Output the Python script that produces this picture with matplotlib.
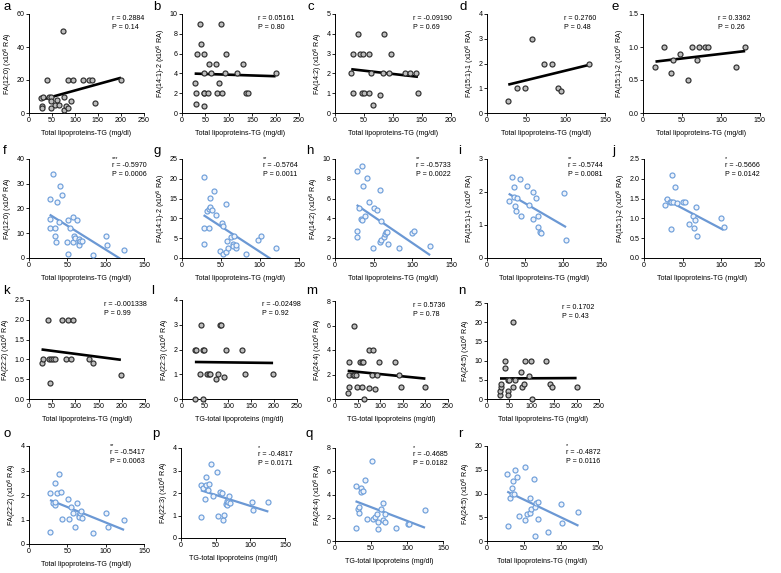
import numpy as np
import matplotlib
matplotlib.use("Agg")
import matplotlib.pyplot as plt

plt.rcParams['font.family'] = ['Liberation Sans', 'DejaVu Sans']

W, H = 781, 573
fig = plt.figure(figsize=(W / 100, H / 100), dpi=100)

# ---------------- data ----------------
a_x = [27, 28, 28, 31, 43, 47, 47, 47, 57, 60, 65, 76, 76, 80, 85, 92, 143, 40, 84, 96, 118, 130, 138, 200, 74]
a_y = [9, 4, 3, 10, 10, 10, 7, 3, 5, 8, 5, 10, 2, 4, 3, 7, 6, 20, 20, 20, 20, 20, 20, 20, 50]

b_x = [27, 30, 30, 31, 39, 41, 46, 46, 48, 47, 48, 55, 57, 61, 73, 74, 79, 83, 85, 92, 95, 118, 130, 137, 141, 200]
b_y = [3, 2, 0.9, 6, 9, 7, 4, 2, 2, 0.7, 6, 2, 5, 4, 5, 2, 3, 9, 2, 4, 6, 4, 5, 2, 2, 4]

c_x = [28, 31, 31, 40, 43, 49, 47, 50, 58, 58, 62, 66, 77, 82, 85, 93, 97, 120, 129, 140, 143]
c_y = [2, 3, 1, 4, 3, 3, 1, 1, 3, 1, 2, 0.4, 0.9, 2, 4, 2, 3, 2, 2, 2, 1]

d_x = [27, 38, 48, 57, 73, 83, 90, 94, 130]
d_y = [0.5, 1, 1, 3, 2, 2, 1, 0.9, 2]

e_x = [16, 27, 36, 38, 47, 58, 63, 69, 72, 79, 83, 119, 131]
e_y = [0.7, 1.0, 0.6, 0.8, 0.9, 0.5, 1.0, 0.8, 1.0, 1.0, 1.0, 0.7, 1.0]

f_x = [31, 27, 28, 27, 34, 34, 35, 36, 38.6, 41, 43, 49, 51, 51, 53, 57, 58, 59, 59.4, 63, 64.6, 64.6, 65.5, 66.8, 68.5, 83, 100, 102, 123.5]
f_y = [34, 24, 15.6, 12.2, 12.2, 8.8, 6.4, 22.6, 14.6, 29, 25.6, 6.4, 15.3, 1.8, 12, 6.4, 16.5, 9, 7.9, 15.5, 6.2, 5.3, 7.5, 6.8, 6.8, 1.1, 8.8, 5.4, 3.4]

g_x = [27.7, 28, 28.5, 31.5, 34, 35, 35.4, 36, 39, 41, 43.5, 49, 50.7, 52, 53, 56, 57, 58, 58.8, 63, 64.8, 65.6, 67.3, 68.6, 68.6, 81.8, 98, 101, 121]
g_y = [20.4, 7.7, 3.6, 11.9, 7.5, 12.4, 12.9, 15.1, 12.1, 16.8, 10.9, 1.7, 8.8, 1.1, 8.1, 13.6, 1.5, 4.3, 2.4, 5.3, 3.6, 3.0, 5.6, 2.5, 3.4, 1.1, 4.5, 5.6, 2.5]

h_x = [28, 35, 36.6, 41.8, 29, 29, 31.5, 34, 34.5, 39, 44, 49.5, 51, 54, 58, 59, 58, 60, 63, 64.7, 66, 67, 68, 83, 99.6, 102, 123]
h_y = [8.8, 9.3, 7.3, 8.1, 2.7, 2.1, 5.1, 3.9, 3.8, 4.2, 5.7, 1.05, 5.0, 4.85, 6.9, 3.7, 1.6, 1.8, 2.1, 2.4, 2.6, 2.6, 1.45, 1.0, 2.5, 2.7, 1.2]

i_x = [28.5, 33, 35.5, 35.5, 37, 37.7, 40, 43, 45, 52.6, 55, 60.5, 61, 65, 67.5, 66.7, 70, 70.6, 101.7, 104]
i_y = [1.72, 2.46, 2.15, 1.84, 1.58, 1.43, 1.82, 2.39, 1.28, 2.18, 1.6, 2.0, 1.19, 1.81, 1.26, 0.94, 0.79, 0.76, 1.96, 0.56]

j_x = [26.8, 29.8, 33, 35, 34.6, 36.7, 38, 40.6, 42.8, 50, 53, 58, 63, 64.4, 65.7, 67.4, 68.3, 99, 103]
j_y = [1.34, 1.49, 1.41, 1.42, 0.74, 2.1, 1.41, 1.8, 1.38, 1.42, 1.42, 0.85, 1.07, 0.75, 0.96, 1.29, 0.56, 1.0, 0.78]

k_x = [27, 30, 40, 44, 48, 46, 52, 56, 72, 83, 95, 80, 91, 129, 138, 198]
k_y = [0.9, 1, 2, 1, 1, 0.4, 1, 1, 2, 2, 2, 1, 1, 1, 0.9, 0.6]

l_x = [28, 28, 30, 41, 39, 45, 47, 45, 55, 58, 60, 74, 82, 85, 79, 91, 95, 130, 138, 198]
l_y = [0, 2, 2, 3, 1, 2, 2, 0, 1, 1, 1, 0.8, 3, 3, 1, 0.9, 2, 2, 1, 1]

m_x = [28, 31, 31, 31, 41, 39, 43, 46, 48, 56, 59, 62, 59, 65, 75, 85, 76, 81, 89, 93, 97, 133, 141, 145, 200]
m_y = [0.5, 3, 2, 1, 6, 2, 2, 2, 1, 3, 3, 3, 1, 0, 4, 4, 0.9, 2, 0.8, 2, 3, 3, 2, 1, 1]

n_x = [29, 30, 31, 31, 41, 40, 46, 49, 47, 47, 59, 58, 63, 75, 78, 82, 84, 98, 93, 101, 131, 140, 145, 200]
n_y = [1, 2, 3, 4, 10, 8, 5, 5, 2, 1, 20, 3, 5, 7, 3, 4, 10, 10, 6, 0, 10, 4, 3, 3]

o_x = [28, 27.4, 31, 33.5, 34, 34.4, 36, 38.7, 41.3, 43, 51.3, 51.7, 54.3, 57.8, 60, 63, 65, 65.6, 66.5, 68.3, 69, 83.5, 100, 102.6, 124]
o_y = [0.5, 2.07, 1.67, 1.6, 2.48, 1.71, 2.08, 2.86, 2.14, 1.02, 1.85, 1.02, 1.5, 1.25, 0.68, 1.69, 1.18, 1.12, 1.27, 1.35, 1.05, 0.46, 1.25, 0.68, 0.98]

p_x = [29, 28.7, 32, 35, 35.5, 36.4, 38.3, 40, 42.6, 45.5, 52, 53.7, 55.6, 59.4, 60.4, 61.3, 64.7, 66.6, 67, 67.6, 69.5, 70, 102, 104.5, 126]
p_y = [0.92, 2.34, 2.24, 1.75, 2.71, 2.37, 2.12, 2.41, 3.29, 1.85, 2.95, 0.98, 2.03, 1.99, 0.81, 1.04, 1.53, 1.66, 1.48, 1.6, 1.85, 1.54, 1.6, 1.26, 1.61]

q_x = [28.5, 29, 31.8, 33.6, 34, 36, 36.8, 39, 42, 44, 51.5, 53, 55, 58.4, 60, 59.4, 64.4, 66, 66.7, 69.5, 70, 84.7, 100.8, 102.6, 125]
q_y = [4.77, 1.13, 2.75, 2.89, 2.43, 4.57, 4.22, 4.28, 5.23, 1.91, 6.85, 1.91, 2.08, 2.31, 1.65, 1.04, 2.72, 3.27, 1.79, 2.28, 1.62, 1.1, 1.42, 1.47, 2.63]

r_x = [27.3, 28.2, 31.3, 33.6, 35, 34, 36.7, 38.5, 41, 43.9, 51, 51.5, 54, 57.8, 58.7, 59.6, 63, 65, 65.8, 65.4, 68.5, 69, 82.8, 99.9, 102, 123.6]
r_y = [14.1, 3.1, 9.1, 11.1, 12.7, 9.9, 9.9, 14.9, 13.5, 5.3, 15.5, 4.5, 5.6, 9.0, 5.8, 6.7, 13.1, 7.2, 7.9, 1.0, 8.2, 4.6, 2.0, 7.7, 3.7, 6.1]

letters = list("abcdefghijklmnopqr")
xs = [a_x, b_x, c_x, d_x, e_x, f_x, g_x, h_x, i_x, j_x, k_x, l_x, m_x, n_x, o_x, p_x, q_x, r_x]
ys = [a_y, b_y, c_y, d_y, e_y, f_y, g_y, h_y, i_y, j_y, k_y, l_y, m_y, n_y, o_y, p_y, q_y, r_y]

ylabels = ["FA(12:0) (x10$^6$ RA)", "FA(14:1)-2 (x10$^6$ RA)", "FA(14:2) (x10$^6$ RA)",
           "FA(15:1)-1 (x10$^6$ RA)", "FA(15:1)-2 (x10$^6$ RA)",
           "FA(12:0) (x10$^6$ RA)", "FA(14:1)-2 (x10$^6$ RA)", "FA(14:2) (x10$^6$ RA)",
           "FA(15:1)-1 (x10$^6$ RA)", "FA(15:1)-2 (x10$^6$ RA)",
           "FA(22:2) (x10$^6$ RA)", "FA(22:3) (x10$^6$ RA)", "FA(24:4) (x10$^6$ RA)", "FA(24:5) (x10$^6$ RA)",
           "FA(22:2) (x10$^6$ RA)", "FA(22:3) (x10$^6$ RA)", "FA(24:4) (x10$^6$ RA)", "FA(24:5) (x10$^6$ RA)"]
XL1 = "Total lipoproteins-TG (mg/dl)"
XL2 = "TG-total lipoproteins (mg/dl)"
xlabels = [XL1] * 10 + [XL1, XL2, XL2, XL1, XL1, XL2, XL2, XL1]

r_vals = ["0.2884", "0.05161", "-0.09190", "0.2760", "0.3362",
          "-0.5970", "-0.5764", "-0.5733", "-0.5744", "-0.5666",
          "-0.001338", "-0.02498", "0.5736", "0.1702",
          "-0.5417", "-0.4817", "-0.4685", "-0.4872"]
p_vals = ["0.14", "0.80", "0.69", "0.48", "0.26",
          "0.0006", "0.0011", "0.0022", "0.0081", "0.0142",
          "0.99", "0.92", "0.78", "0.43",
          "0.0063", "0.0171", "0.0182", "0.0116"]
stars = ["", "", "", "", "", "***", "**", "**", "**", "*",
         "", "", "", "", "**", "*", "*", "*"]

x_max = [250, 250, 200, 150, 150, 150, 150, 150, 150, 150, 250, 250, 250, 250, 150, 150, 150, 150]
x_step = [50] * 18
y_max = [60, 10, 5, 4, 1.5, 40, 25, 10, 3, 2.5, 2.5, 4, 8, 25, 4, 4, 8, 20]
y_step = [20, 2, 1, 1, 0.5, 10, 5, 2, 1, 0.5, 0.5, 1, 2, 5, 1, 1, 2, 5]
y_fmt = ["%d", "%d", "%d", "%d", "%.1f", "%d", "%d", "%d", "%d", "%.1f",
         "%.1f", "%d", "%d", "%d", "%d", "%d", "%d", "%d"]
is_blue = [False] * 5 + [True] * 5 + [False] * 4 + [True] * 4

# ---------------- layout (pixel rects: left, top, right, bottom) ----------------
rects = [
    (29, 14, 144, 113), (182, 14, 299, 113), (335, 14, 451, 113), (487, 14, 605, 113), (643, 14, 760, 113),
    (29, 159, 144, 258), (182, 159, 299, 258), (335, 159, 451, 258), (487, 159, 601, 258), (644, 159, 760, 258),
    (29, 300, 145, 399), (182, 300, 297, 399), (335, 301, 448, 399), (487, 303, 599, 399),
    (29, 446, 144, 544), (181, 448, 285, 538), (335, 448, 443, 541), (487, 446, 598, 541),
]
text_x = [0.72, 0.65, 0.67, 0.65, 0.64, 0.72, 0.69, 0.70, 0.71, 0.70,
          0.65, 0.70, 0.69, 0.67, 0.70, 0.74, 0.72, 0.71]
letter_pos = [(3, 7), (153, 7), (308, 7), (459, 7), (612, 7),
              (3, 151), (153, 151), (306, 151), (458, 151), (612, 151),
              (3, 291), (151, 291), (306, 291), (458, 291),
              (3, 434), (152, 434), (306, 434), (458, 434)]

GRAY_FACE, GRAY_EDGE = "#bdbdbd", "#2e2e2e"
BLUE_FACE, BLUE_EDGE, BLUE_LINE = "#eef3fb", "#6f9fda", "#6b98d4"
FS = 5.1

for idx in range(18):
    l, t, rr, b = rects[idx]
    ax = fig.add_axes([l / W, 1 - b / H, (rr - l) / W, (b - t) / H])
    x = np.array(xs[idx], float)
    y = np.array(ys[idx], float)
    blue = is_blue[idx]
    ax.scatter(x, y, s=13, facecolor=BLUE_FACE if blue else GRAY_FACE,
               edgecolor=BLUE_EDGE if blue else GRAY_EDGE,
               linewidths=0.85, zorder=3, clip_on=False)
    k, c0 = np.polyfit(x, y, 1)
    xx = np.array([x.min(), x.max()])
    ax.plot(xx, k * xx + c0, color=BLUE_LINE if blue else "black",
            lw=1.6 if blue else 1.9, zorder=2, solid_capstyle="butt")
    ax.set_xlim(0, x_max[idx])
    ax.set_ylim(0, y_max[idx])
    ax.set_xticks(np.arange(0, x_max[idx] + 1e-9, x_step[idx]))
    yt = np.arange(0, y_max[idx] + 1e-9, y_step[idx])
    ax.set_yticks(yt)
    ax.set_yticklabels([y_fmt[idx] % v for v in yt])
    for s in ("top", "right"):
        ax.spines[s].set_visible(False)
    for s in ("left", "bottom"):
        ax.spines[s].set_linewidth(0.7)
    ax.tick_params(direction="out", length=2, width=0.6, labelsize=FS, pad=1.2)
    ax.set_ylabel(ylabels[idx], fontsize=FS, labelpad=1)
    ax.set_xlabel(xlabels[idx], fontsize=FS, labelpad=4)
    tx = text_x[idx]
    if stars[idx]:
        ax.text(tx, 1.0, stars[idx], transform=ax.transAxes, fontsize=4.0,
                va="center", ha="left")
        ax.text(tx, 0.965, "r = " + r_vals[idx] + "\nP = " + p_vals[idx],
                transform=ax.transAxes, fontsize=FS, va="top", ha="left", linespacing=1.3)
    else:
        ax.text(tx, 0.985, "r = " + r_vals[idx] + "\nP = " + p_vals[idx],
                transform=ax.transAxes, fontsize=FS, va="top", ha="left", linespacing=1.3)
    lx, ly = letter_pos[idx]
    fig.text(lx / W, 1 - ly / H, letters[idx], fontsize=9.5, va="center", ha="left")

fig.savefig("out.png", dpi=100)
